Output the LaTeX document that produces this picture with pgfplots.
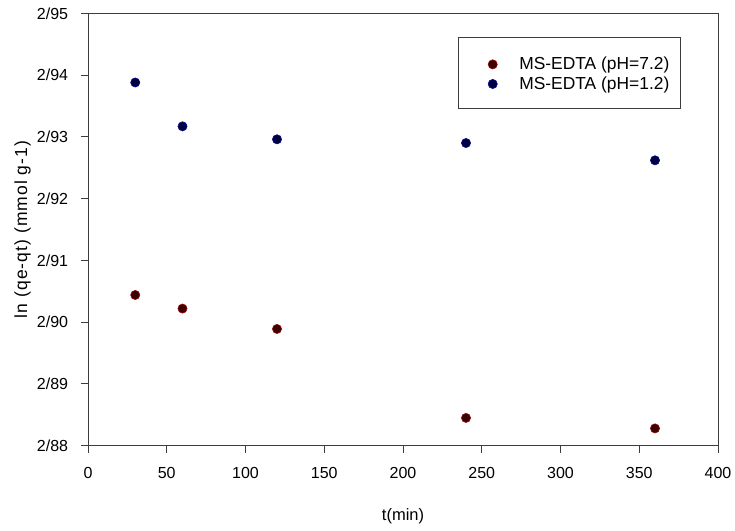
\documentclass[border=0pt]{standalone}
\usepackage{fontspec}
\setmainfont{Liberation Sans}
\usepackage{pgfplots}
\pgfplotsset{compat=1.18}
\definecolor{redfill}{RGB}{60,0,0}
\definecolor{rededge}{RGB}{150,10,10}
\definecolor{bluefill}{RGB}{0,0,65}
\definecolor{blueedge}{RGB}{10,10,140}
\definecolor{axisgray}{RGB}{60,60,60}
\begin{document}
\begin{tikzpicture}
\useasboundingbox (-88pt,-84.3pt) rectangle (647pt,445.7pt);
\begin{axis}[
  at={(0,0)}, anchor=south west, scale only axis,
  width=630pt, height=432.4pt,
  xmin=0, xmax=400, ymin=2.88, ymax=2.95,
  xtick={0,50,100,150,200,250,300,350,400},
  ytick={2.88,2.89,2.90,2.91,2.92,2.93,2.94,2.95},
  yticklabels={2/88,2/89,2/90,2/91,2/92,2/93,2/94,2/95},
  /pgf/number format/assume math mode=true,
  tick align=outside, tick pos=left, major tick length=7pt,
  axis line style={color=axisgray, line width=1pt},
  every tick/.style={axisgray, line width=1pt},
  ticklabel style={font=\fontsize{16}{19}\selectfont, black},
  yticklabel style={xshift=-9.4pt},
  xticklabel style={yshift=-11pt},
  xlabel={t(min)}, ylabel={ln (qe-qt) (mmol g-1)},
  every axis x label/.style={at={(axis description cs:0.5,0)}, anchor=center, yshift=-71pt, font=\fontsize{16.5}{19}\selectfont},
  every axis y label/.style={at={(axis description cs:0,0.5)}, anchor=center, rotate=90, yshift=65.5pt, font=\fontsize{17.5}{20}\selectfont\addfontfeature{LetterSpace=6}},
  legend style={at={(0.6348,0.9033)}, anchor=north west, draw=none, fill=none, inner sep=0pt,
    row sep=1.5pt, column sep=20pt, font=\fontsize{17.4}{20}\selectfont, cells={anchor=west}},
]
\addplot[only marks, mark=*, mark size=4.6pt, mark options={fill=redfill, draw=rededge, line width=0.6pt}]
  coordinates {(30,2.9044) (60,2.9022) (120,2.8989) (240,2.8845) (360,2.8828)};
\addlegendentry{MS-EDTA (pH=7.2)}
\addplot[only marks, mark=*, mark size=4.6pt, mark options={fill=bluefill, draw=blueedge, line width=0.6pt}]
  coordinates {(30,2.9388) (60,2.9317) (120,2.9296) (240,2.9290) (360,2.9262)};
\addlegendentry{MS-EDTA (pH=1.2)}
\draw[axisgray, line width=1pt] (rel axis cs:0,1) -- (rel axis cs:1,1) -- (rel axis cs:1,0);
\draw[axisgray, line width=1pt] (rel axis cs:0.5878,0.9445) rectangle (rel axis cs:0.9408,0.7803);
\end{axis}
\end{tikzpicture}
\end{document}
